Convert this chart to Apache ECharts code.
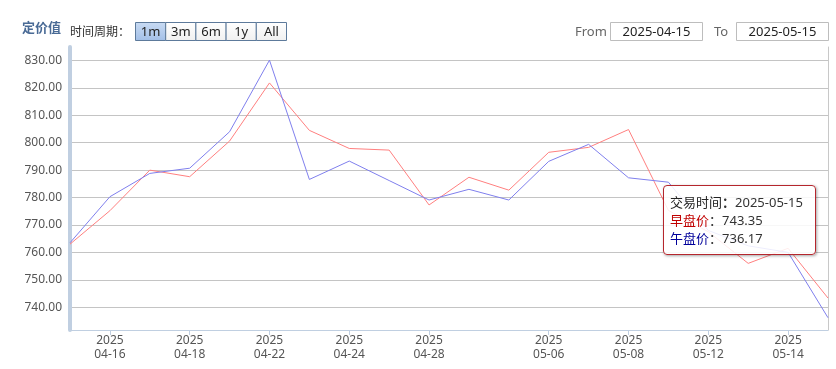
<!DOCTYPE html>
<html>
<head>
<meta charset="utf-8">
<script src="https://cdn.jsdelivr.net/npm/echarts@6/dist/echarts.min.js"></script>
<style>
html,body{margin:0;padding:0;background:#fff;}
#chart{width:836px;height:369px;}
</style>
</head>
<body>
<div id="chart"></div>
<script>
// ---- data ----
const dates = ['2025-04-15','2025-04-16','2025-04-17','2025-04-18','2025-04-21','2025-04-22','2025-04-23','2025-04-24','2025-04-25','2025-04-28','2025-04-29','2025-04-30','2025-05-06','2025-05-07','2025-05-08','2025-05-09','2025-05-12','2025-05-13','2025-05-14','2025-05-15'];
const morningPrice = [763.0, 775.2, 790.0, 787.6, 800.6, 821.8, 804.5, 797.9, 797.3, 777.3, 787.4, 782.7, 796.5, 798.3, 804.8, 775.3, 767.5, 756.0, 761.5, 743.35];
const afternoonPrice = [763.5, 780.3, 788.8, 790.7, 804.0, 830.1, 786.6, 793.3, 786.2, 779.1, 783.0, 779.1, 793.2, 799.4, 787.2, 785.6, 768.0, 762.4, 760.0, 736.17];
const seriesNames = ['早盘价', '午盘价'];
const labelDates = ['2025-04-16','2025-04-18','2025-04-22','2025-04-24','2025-04-28','2025-05-06','2025-05-08','2025-05-12','2025-05-14'];
const rangeButtons = ['1m','3m','6m','1y','All'];
const titleText = '定价值';
const periodText = '时间周期：';
const tooltipDateLabel = '交易时间';
const yMin = 731.7, yMax = 834.9;

const FONT = '"Noto Sans", "Noto Sans CJK SC", sans-serif';
const chart = echarts.init(document.getElementById('chart'), null, {renderer: 'canvas'});

const showLabel = (idx, val) => labelDates.indexOf(val) >= 0;

// header graphics
const graphics = [];
graphics.push({type:'text', x:22, y:28.5, style:{text:titleText, fill:'#4a6b96', font:'bold 13px ' + FONT, textAlign:'left', textVerticalAlign:'middle'}});
graphics.push({type:'text', x:70, y:32.5, style:{text:periodText, fill:'#333', font:'12px ' + FONT, textAlign:'left', textVerticalAlign:'middle'}});
rangeButtons.forEach((b, i) => {
  const x0 = 135.5 + i * 30.2;
  graphics.push({type:'rect', shape:{x:x0, y:22.5, width:30.2, height:18},
    style:{fill: i === 0 ? {type:'linear', x:0, y:0, x2:0, y2:1, colorStops:[{offset:0,color:'#c9dbf3'},{offset:1,color:'#a2bfe7'}]}
                         : {type:'linear', x:0, y:0, x2:0, y2:1, colorStops:[{offset:0,color:'#ffffff'},{offset:1,color:'#f0f0f0'}]},
           stroke:'#5d7a9b', lineWidth:1}});
  graphics.push({type:'text', x:x0 + 15.1, y:32, style:{text:b, fill:'#222', font:'13px ' + FONT, textAlign:'center', textVerticalAlign:'middle'}});
});
graphics.push({type:'text', x:575, y:32, style:{text:'From', fill:'#666', font:'13px ' + FONT, textAlign:'left', textVerticalAlign:'middle'}});
graphics.push({type:'rect', shape:{x:610.5, y:22.5, width:92, height:18}, style:{fill:'#fff', stroke:'#bdbdbd', lineWidth:1}});
graphics.push({type:'text', x:656.5, y:32, style:{text:dates[0], fill:'#222', font:'13px ' + FONT, textAlign:'center', textVerticalAlign:'middle'}});
graphics.push({type:'text', x:714, y:32, style:{text:'To', fill:'#666', font:'13px ' + FONT, textAlign:'left', textVerticalAlign:'middle'}});
graphics.push({type:'rect', shape:{x:736.5, y:22.5, width:92, height:18}, style:{fill:'#fff', stroke:'#bdbdbd', lineWidth:1}});
graphics.push({type:'text', x:782.5, y:32, style:{text:dates[dates.length-1], fill:'#222', font:'13px ' + FONT, textAlign:'center', textVerticalAlign:'middle'}});

const option = {
  animation: false,
  textStyle: {fontFamily: FONT},
  grid: {left: 70, right: 8, top: 47, bottom: 39, containLabel: false},
  graphic: graphics,
  tooltip: {
    trigger: 'axis',
    axisPointer: {type: 'none'},
    alwaysShowContent: true,
    transitionDuration: 0,
    position: [663, 185],
    backgroundColor: 'rgba(255,255,255,0.86)',
    borderColor: '#b5262d',
    borderWidth: 1,
    borderRadius: 4,
    padding: [7, 6],
    extraCssText: 'box-shadow:1px 1px 3px rgba(0,0,0,0.35);line-height:18px;width:139px;',
    textStyle: {fontSize: 13, color: '#333', fontFamily: FONT},
    formatter: function (params) {
      const i = params[0].dataIndex;
      return '<div style="line-height:18px;white-space:nowrap;">' +
        '<span style="color:#222">' + tooltipDateLabel + '</span><b>：</b>' + dates[i] + '<br/>' +
        '<span style="color:#c00000">' + seriesNames[0] + '</span>：' + morningPrice[i].toFixed(2) + '<br/>' +
        '<span style="color:#00009a">' + seriesNames[1] + '</span>：' + afternoonPrice[i].toFixed(2) +
        '</div>';
    }
  },
  xAxis: {
    type: 'category',
    boundaryGap: false,
    data: dates,
    axisLine: {lineStyle: {color: '#c0cfe1', width: 1}},
    axisTick: {show: true, interval: showLabel, length: 5, lineStyle: {color: '#c0cfe1'}},
    axisLabel: {
      interval: showLabel,
      formatter: v => v.slice(0, 4) + '\n' + v.slice(5),
      color: '#555', fontSize: 12, lineHeight: 14, margin: 4, fontFamily: FONT
    },
    splitLine: {show: false}
  },
  yAxis: [{
    type: 'value',
    min: yMin, max: yMax,
    splitNumber: 10, minInterval: 10, maxInterval: 10,
    axisLine: {show: true, lineStyle: {color: '#c0cfe1', width: 4}},
    axisTick: {show: false},
    axisLabel: {
      formatter: v => v.toFixed(2),
      color: '#555', fontSize: 12, margin: 8, fontFamily: FONT,
      showMinLabel: false, showMaxLabel: false,
      verticalAlign: 'middle', padding: [0, 0, 12, 0]
    },
    splitLine: {show: true, showMinLine: false, showMaxLine: false, lineStyle: {color: '#c4c4c4', width: 1}}
  }, {
    type: 'value',
    position: 'right',
    min: yMin, max: yMax,
    axisLine: {show: true, lineStyle: {color: '#c8c8c8', width: 1}},
    axisTick: {show: false},
    axisLabel: {show: false},
    splitLine: {show: false}
  }],
  series: [{
    name: seriesNames[0],
    type: 'line',
    data: morningPrice,
    symbol: 'none',
    lineStyle: {color: '#ec7474', width: 1},
    itemStyle: {color: '#ec7474'}
  }, {
    name: seriesNames[1],
    type: 'line',
    data: afternoonPrice,
    symbol: 'none',
    lineStyle: {color: '#7474d8', width: 1},
    itemStyle: {color: '#7474d8'}
  }]
};
chart.setOption(option);
chart.dispatchAction({type: 'showTip', seriesIndex: 0, dataIndex: dates.length - 1});
</script>
</body>
</html>
